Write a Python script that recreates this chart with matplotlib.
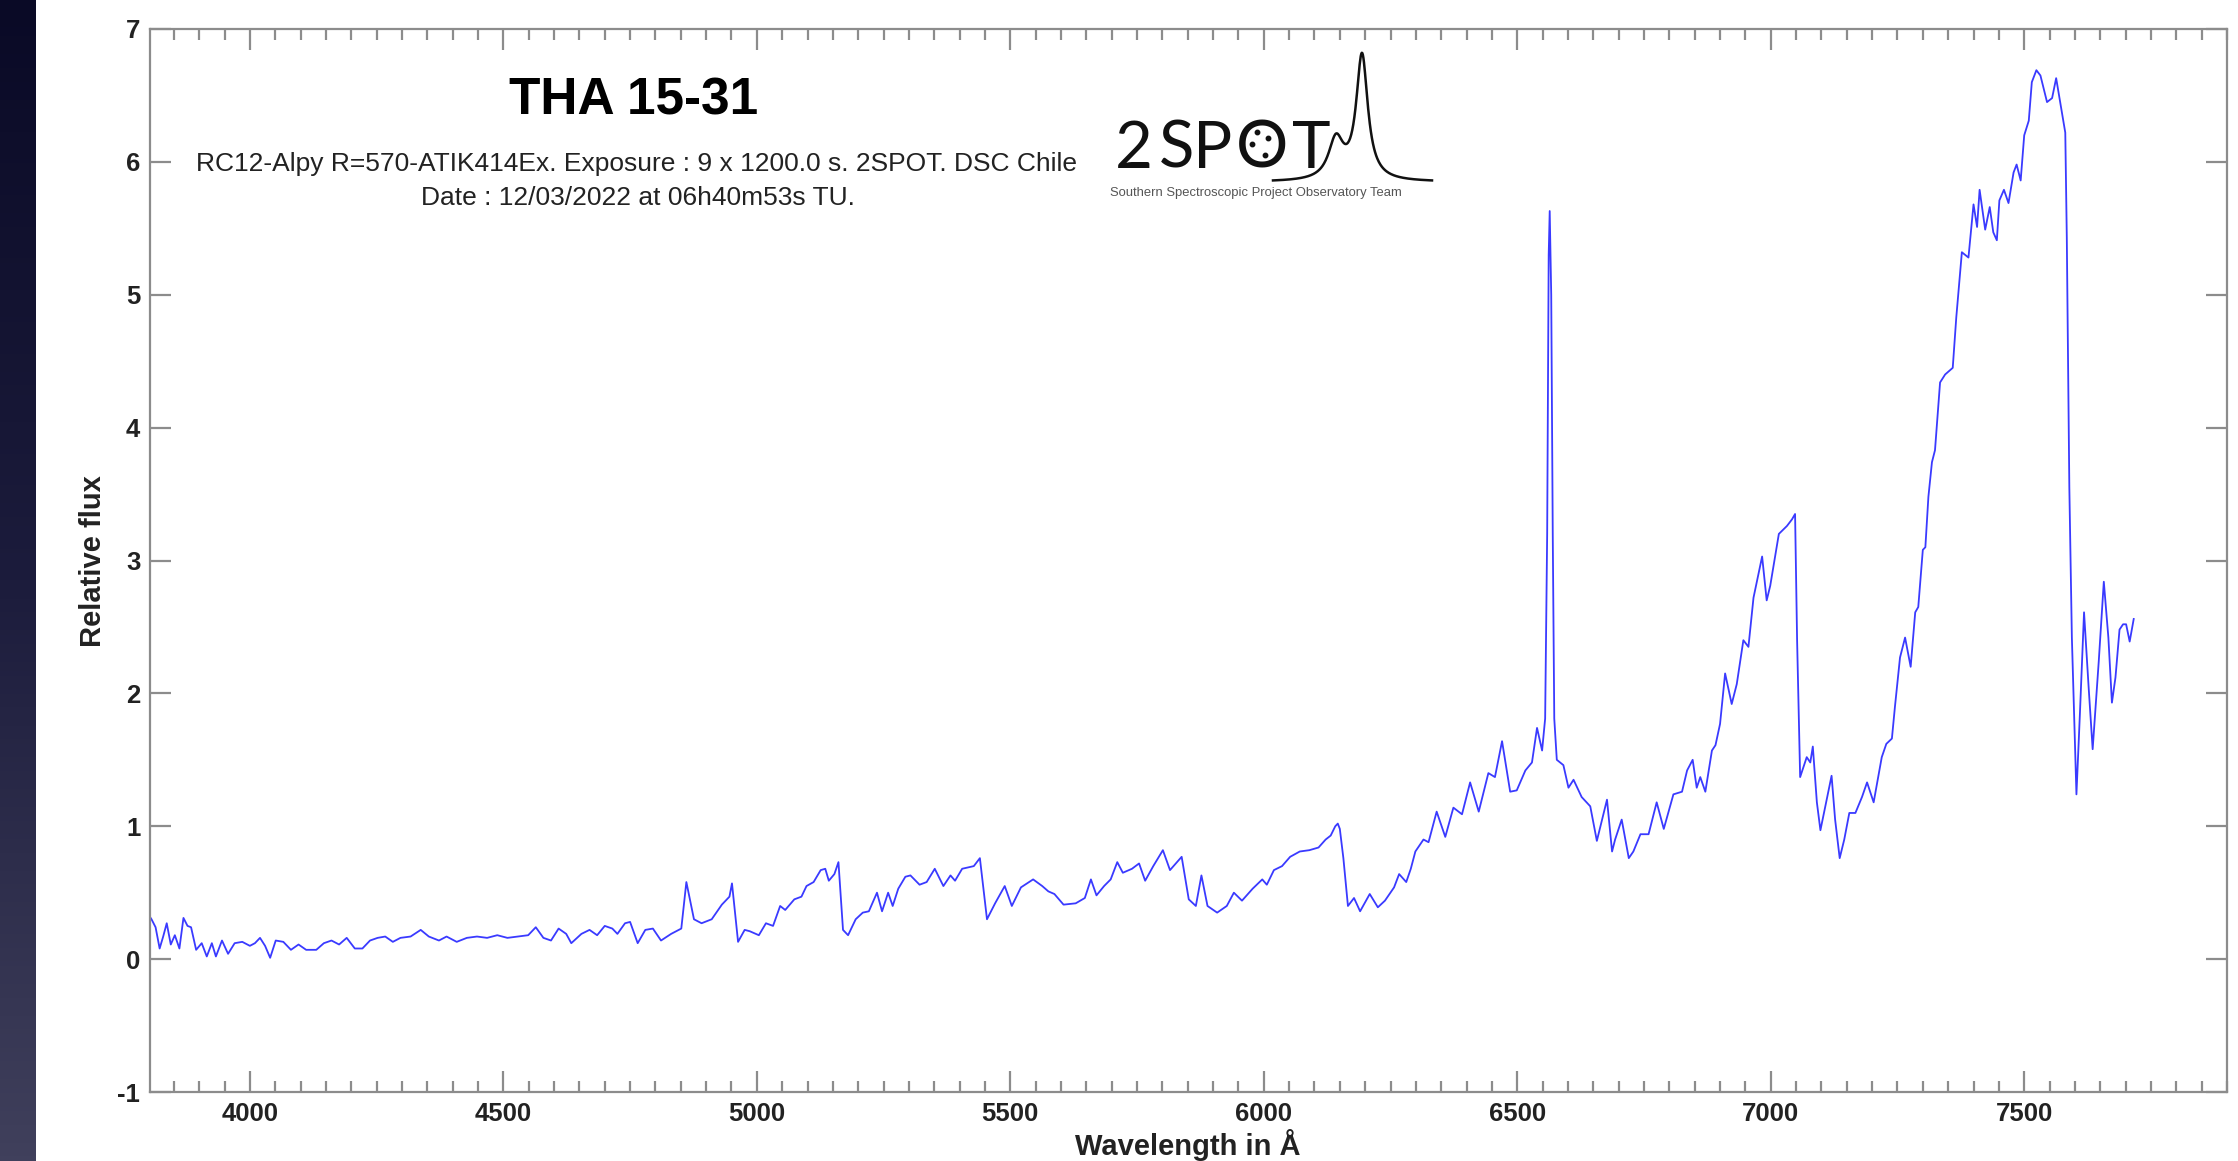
import numpy as np
import matplotlib.pyplot as plt
from matplotlib.colors import LinearSegmentedColormap
from matplotlib.ticker import MultipleLocator

plt.rcParams['font.family'] = ['Liberation Sans', 'DejaVu Sans']
plt.rcParams['axes.unicode_minus'] = False

# spectrum (wavelength in A, relative flux)
wavelength = [
    3799, 3806, 3814, 3822, 3829, 3836, 3844, 3852, 3861, 3869, 3877, 3884, 3894, 3905, 3915,
    3925, 3933, 3945, 3957, 3970, 3985, 4000, 4010, 4020, 4030, 4040, 4051, 4066, 4081, 4096,
    4111, 4131, 4146, 4161, 4176, 4191, 4207, 4222, 4237, 4252, 4267, 4282, 4297, 4317, 4337,
    4353, 4373, 4388, 4408, 4428, 4448, 4468, 4488, 4508, 4529, 4549, 4564, 4579, 4594, 4609,
    4624, 4634, 4654, 4670, 4685, 4700, 4715, 4725, 4740, 4750, 4765, 4780, 4795, 4811, 4831,
    4851, 4861, 4876, 4891, 4911, 4931, 4946, 4951, 4963, 4976, 4986, 5004, 5018, 5032, 5046,
    5056, 5074, 5088, 5098, 5112, 5126, 5135, 5142, 5153, 5161, 5170, 5180, 5195, 5209, 5221,
    5237, 5247, 5259, 5268, 5279, 5293, 5303, 5321, 5335, 5351, 5368, 5382, 5391, 5405, 5428,
    5440, 5454, 5470, 5489, 5503, 5521, 5545, 5563, 5575, 5587, 5605, 5629, 5647, 5659, 5670,
    5685, 5698, 5711, 5722, 5740, 5754, 5766, 5782, 5801, 5815, 5838, 5852, 5866, 5877, 5889,
    5908, 5927, 5941, 5957, 5978, 5997, 6006, 6020, 6036, 6052, 6071, 6090, 6108, 6122, 6132,
    6141, 6146, 6150, 6157, 6166, 6178, 6190, 6209, 6225, 6239, 6257, 6267, 6281, 6290, 6299,
    6315, 6325, 6341, 6358, 6374, 6391, 6407, 6424, 6443, 6456, 6470, 6486, 6499, 6516, 6529,
    6539, 6549, 6555, 6559, 6562, 6564, 6567, 6570, 6573, 6578, 6591, 6601, 6611, 6627, 6644,
    6657, 6677, 6687, 6693, 6706, 6720, 6729, 6743, 6759, 6775, 6789, 6808, 6825, 6835, 6846,
    6854, 6861, 6871, 6884, 6891, 6900, 6910, 6923, 6933, 6946, 6956, 6966, 6983, 6992, 6999,
    7016, 7032, 7042, 7048, 7052, 7058, 7065, 7071, 7078, 7083, 7091, 7098, 7106, 7120, 7127,
    7136, 7145, 7155, 7167, 7180, 7190, 7203, 7219, 7228, 7239, 7245, 7255, 7265, 7276, 7285,
    7291, 7300, 7305, 7311, 7318, 7324, 7334, 7344, 7359, 7366, 7377, 7390, 7400, 7407, 7412,
    7423, 7432, 7439, 7446, 7451, 7460, 7469, 7479, 7485, 7493, 7500, 7509, 7515, 7524, 7532,
    7545, 7555, 7563, 7571, 7581, 7584, 7589, 7594, 7603, 7610, 7618, 7627, 7635, 7647, 7657,
    7666, 7673, 7680, 7688, 7695, 7701, 7708, 7716,
]
flux = [
    0.34, 0.30, 0.24, 0.08, 0.17, 0.27, 0.11, 0.18, 0.08, 0.31, 0.25, 0.24, 0.07, 0.12, 0.02,
    0.12, 0.02, 0.14, 0.04, 0.12, 0.13, 0.10, 0.12, 0.16, 0.10, 0.01, 0.14, 0.13, 0.07, 0.11,
    0.07, 0.07, 0.12, 0.14, 0.11, 0.16, 0.08, 0.08, 0.14, 0.16, 0.17, 0.13, 0.16, 0.17, 0.22,
    0.17, 0.14, 0.17, 0.13, 0.16, 0.17, 0.16, 0.18, 0.16, 0.17, 0.18, 0.24, 0.16, 0.14, 0.23,
    0.19, 0.12, 0.19, 0.22, 0.18, 0.25, 0.23, 0.19, 0.27, 0.28, 0.12, 0.22, 0.23, 0.14, 0.19,
    0.23, 0.58, 0.30, 0.27, 0.30, 0.41, 0.47, 0.57, 0.13, 0.22, 0.21, 0.18, 0.27, 0.25, 0.40,
    0.37, 0.45, 0.47, 0.55, 0.58, 0.67, 0.68, 0.59, 0.64, 0.73, 0.22, 0.18, 0.30, 0.35, 0.36,
    0.50, 0.36, 0.50, 0.40, 0.53, 0.62, 0.63, 0.56, 0.58, 0.68, 0.55, 0.63, 0.59, 0.68, 0.70,
    0.76, 0.30, 0.42, 0.55, 0.40, 0.54, 0.60, 0.55, 0.51, 0.49, 0.41, 0.42, 0.46, 0.60, 0.48,
    0.55, 0.60, 0.73, 0.65, 0.68, 0.72, 0.59, 0.70, 0.82, 0.67, 0.77, 0.45, 0.40, 0.63, 0.40,
    0.35, 0.40, 0.50, 0.44, 0.53, 0.60, 0.56, 0.67, 0.70, 0.77, 0.81, 0.82, 0.84, 0.90, 0.93,
    1.00, 1.02, 0.98, 0.76, 0.40, 0.46, 0.36, 0.49, 0.39, 0.44, 0.54, 0.64, 0.58, 0.68, 0.81,
    0.90, 0.88, 1.11, 0.92, 1.14, 1.09, 1.33, 1.11, 1.40, 1.37, 1.64, 1.26, 1.27, 1.42, 1.48,
    1.74, 1.57, 1.81, 3.20, 5.30, 5.63, 5.00, 3.20, 1.81, 1.50, 1.46, 1.29, 1.35, 1.22, 1.15,
    0.89, 1.20, 0.81, 0.90, 1.05, 0.76, 0.81, 0.94, 0.94, 1.18, 0.98, 1.24, 1.26, 1.42, 1.50,
    1.29, 1.37, 1.26, 1.57, 1.61, 1.77, 2.15, 1.92, 2.07, 2.40, 2.35, 2.72, 3.03, 2.70, 2.81,
    3.20, 3.26, 3.31, 3.35, 2.40, 1.37, 1.45, 1.52, 1.48, 1.60, 1.18, 0.97, 1.12, 1.38, 1.05,
    0.76, 0.90, 1.10, 1.10, 1.22, 1.33, 1.18, 1.52, 1.62, 1.66, 1.90, 2.27, 2.42, 2.20, 2.61,
    2.65, 3.08, 3.10, 3.48, 3.74, 3.83, 4.34, 4.40, 4.45, 4.83, 5.32, 5.28, 5.68, 5.51, 5.79,
    5.49, 5.66, 5.47, 5.41, 5.71, 5.79, 5.69, 5.92, 5.98, 5.86, 6.20, 6.31, 6.60, 6.69, 6.65,
    6.45, 6.48, 6.63, 6.45, 6.22, 5.43, 3.55, 2.42, 1.24, 1.86, 2.61, 2.05, 1.58, 2.24, 2.84,
    2.42, 1.93, 2.12, 2.48, 2.52, 2.52, 2.39, 2.56,
]

title = 'THA 15-31'
subtitle1 = 'RC12-Alpy R=570-ATIK414Ex. Exposure : 9 x 1200.0 s. 2SPOT. DSC Chile'
subtitle2 = 'Date : 12/03/2022 at 06h40m53s TU.'
logo_letters = ['2', 'S', 'P', 'O', 'T']

W, H = 2238, 1161
fig = plt.figure(figsize=(W / 100, H / 100), dpi=100)


def fx(px):
    return px / W


def fy(py):
    return 1 - py / H


# dark strip on the left edge
bg = fig.add_axes([0, 0, fx(36), 1])
cmap = LinearSegmentedColormap.from_list('strip', ['#0a0a26', '#1c1c3c', '#40405c'])
bg.imshow(np.linspace(0, 1, 256).reshape(-1, 1), aspect='auto', cmap=cmap)
bg.axis('off')

ax = fig.add_axes([fx(150), fy(1092), fx(2227 - 150), (1092 - 29) / H])
ax.plot(wavelength, flux, color='#3a3aff', lw=1.3)
ax.set_xlim(3803, 7900)
ax.set_ylim(-1, 7)
ax.set_xticks(range(4000, 8000, 500))
ax.xaxis.set_minor_locator(MultipleLocator(50))
ax.yaxis.set_major_locator(MultipleLocator(1))
ax.tick_params(which='both', direction='in', top=True, right=True,
               color='#8c8c8c', width=1.6, labelcolor='#222222', labelsize=18.5)
ax.tick_params(which='major', length=15, pad=7)
ax.tick_params(which='minor', length=8)
for lab in ax.get_xticklabels() + ax.get_yticklabels():
    lab.set_fontweight('bold')
for sp in ax.spines.values():
    sp.set_color('#8c8c8c')
    sp.set_linewidth(1.6)

fig.text(fx(1188), fy(1145), 'Wavelength in Å', ha='center', va='center',
         fontsize=21, fontweight='bold', color='#222222')
fig.text(fx(93), fy(561), 'Relative flux', ha='center', va='center', rotation=90,
         fontsize=21, fontweight='bold', color='#222222')

fig.text(fx(634), fy(101), title, ha='center', va='center', fontsize=37, fontweight='bold')
fig.text(fx(636), fy(164), subtitle1, ha='center', va='center', fontsize=19, color='#222222')
fig.text(fx(638), fy(198), subtitle2, ha='center', va='center', fontsize=19, color='#222222')

# 2SPOT logo, drawn in pixel units of the figure
lg = fig.add_axes([fx(1105), fy(210), fx(1440 - 1105), (210 - 40) / H])
lg.set_xlim(1105, 1440)
lg.set_ylim(210, 40)
lg.axis('off')
for ch, cx in zip(logo_letters, [1134, 1177, 1213, 1262, 1311]):
    lg.text(cx, 168, ch, fontsize=47, family=['Lato', 'DejaVu Sans'],
            va='baseline', ha='center', color='#111111')
lg.plot([1257, 1268, 1252, 1265], [132, 138, 144, 155], 'o', ms=3.2, color='#111111')
lx = np.linspace(1273, 1432, 300)
lh = 40 / (1 + ((lx - 1336) / 9) ** 2) + 125 / (1 + ((lx - 1362) / 7) ** 2)
lg.plot(lx, 182 - lh, color='#111111', lw=1.8)
lg.text(1110, 193, 'Southern Spectroscopic Project Observatory Team', fontsize=9.4,
        va='center', ha='left', color='#555555')

fig.savefig('out.png', dpi=100)
